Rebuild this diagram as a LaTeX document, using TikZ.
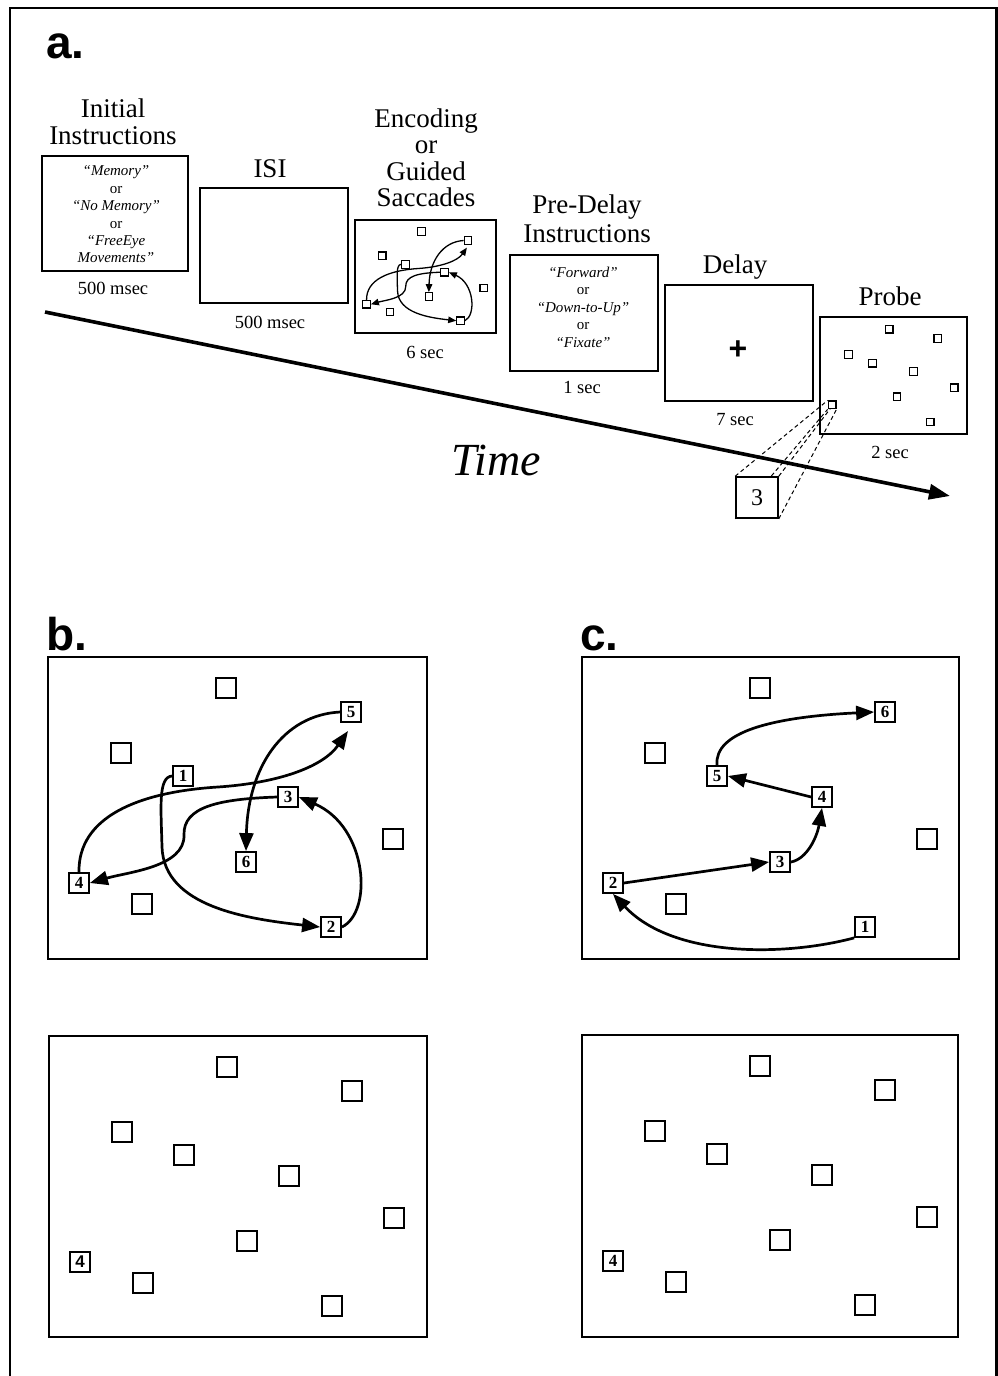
\documentclass[tikz,border=0pt]{standalone}
\usepackage{fontspec}
\setmainfont{Liberation Serif}
\newfontfamily\panelfont{Liberation Sans}
\usetikzlibrary{arrows.meta,backgrounds}

\tikzset{
  frm/.style={draw, line width=2.2pt},
  sqr/.style={draw, line width=2.3pt, fill=white, minimum size=19.5pt, inner sep=0pt,
    font=\fontsize{17}{17}\selectfont\bfseries},
  sacc/.style={line width=2.7pt, -{Triangle[length=18pt,width=14pt]}},
  ttl/.style={anchor=base, inner sep=0pt, font=\fontsize{27}{27}\selectfont},
  dur/.style={anchor=base, inner sep=0pt, font=\fontsize{18.5}{18.5}\selectfont},
  cue/.style={anchor=base, inner sep=0pt, font=\fontsize{15}{15}\selectfont\itshape},
  orr/.style={anchor=base, inner sep=0pt, font=\fontsize{15}{15}\selectfont},
  plab/.style={anchor=base west, inner sep=0pt,
    font=\panelfont\bfseries\fontsize{46}{46}\selectfont},
}

% ten target locations of the search display (panel coordinates)
\newcommand\grid[6]{%
  \node[sqr] (P1)  at (178,31)  {};
  \node[sqr] (P2)  at (303,55)  {#1};
  \node[sqr] (P3)  at (73,96)   {};
  \node[sqr] (P4)  at (135,119) {#2};
  \node[sqr] (P5)  at (240,140) {#3};
  \node[sqr] (P6)  at (345,182) {};
  \node[sqr] (P7)  at (198,205) {#4};
  \node[sqr] (P8)  at (31,226)  {#5};
  \node[sqr] (P9)  at (94,247)  {};
  \node[sqr] (P10) at (283,270) {#6};
}

% saccade sequence 1-2-3-4-5-6 of the forward condition
\newcommand\pathsB{%
  \coordinate (tip5) at (300,74);
  \draw[sacc] (P4.west) .. controls (110,120) and (113,150) .. (114,190)
              .. controls (116,250) and (200,262) .. (P10.west);
  \draw[sacc] (P10.east) .. controls (325,255) and (320,170) .. (P5.east);
  \draw[sacc] (P5.west) .. controls (170,142) and (135,150) .. (136,178)
              .. controls (137,210) and (80,215) .. (P8.east);
  \draw[sacc] (P8.north) .. controls (30,160) and (90,135) .. (170,130)
              .. controls (230,126) and (275,110) .. (tip5);
  \draw[sacc] (P2.west) .. controls (235,58) and (200,110) .. (P7.north);
}

\begin{document}
\begin{tikzpicture}[x=1pt, y=-1pt]
\useasboundingbox (0,0) rectangle (998,1376);

% outer frame (open at the bottom)
\draw[line width=2.5pt] (10,1400) -- (10,8) -- (996.5,8) -- (996.5,1400);

% panel letters
\node[plab] (la) at (46,58)  {a.};
\node[plab] (lb) at (46,650) {b.};
\node[plab] (lc) at (580,650) {c.};

% ---------- trial timeline ----------
\coordinate (tS) at (45,312);
\coordinate (tE) at (950,496);
\draw[line width=3.6pt, -{Triangle[length=21pt,width=15pt]}] (tS) -- (tE);
\node[anchor=base, inner sep=0pt, font=\fontsize{46}{46}\selectfont\itshape] (time) at (496,475) {Time};

% initial instructions
\draw[frm] (42,156) rectangle (188,271);
\node[ttl] (t1a) at (113,117) {Initial};
\node[ttl] (t1b) at (113,144) {Instructions};
\node[cue] (i1) at (116,175.5) {“Memory”};
\node[orr] (i2) at (116,193)   {or};
\node[cue] (i3) at (116,210.5) {“No Memory”};
\node[orr] (i4) at (116,228)   {or};
\node[cue] (i5) at (116,245)   {“FreeEye};
\node[cue] (i6) at (116,262.5) {Movements”};
\node[dur] (d1) at (113,294) {500 msec};

% inter-stimulus interval
\draw[frm] (200,188) rectangle (348,303);
\node[ttl] (t2) at (270,177) {ISI};
\node[dur] (d2) at (270,328) {500 msec};

% encoding / guided saccades
\node[ttl] (t3a) at (426,127) {Encoding};
\node[ttl] (t3b) at (426,153) {or};
\node[ttl] (t3c) at (426,180) {Guided};
\node[ttl] (t3d) at (426,206) {Saccades};
\begin{scope}[shift={(355,220)}, scale=0.373, name prefix=enc-,
    sqr/.style={draw, line width=1.2pt, fill=white, minimum size=7.5pt, inner sep=0pt},
    sacc/.style={line width=1.3pt, -{Triangle[length=8pt,width=6.5pt]}}]
  \draw[line width=2pt] (0,0) rectangle (378,302);
  \grid{}{}{}{}{}{}
  \pathsB
\end{scope}
\node[dur] (d3) at (425,358) {6 sec};

% pre-delay instructions
\draw[frm] (510,255) rectangle (658,371);
\node[ttl] (t4a) at (587,213) {Pre-Delay};
\node[ttl] (t4b) at (587,242) {Instructions};
\node[cue] (j1) at (583,277)   {“Forward”};
\node[orr] (j2) at (583,294.5) {or};
\node[cue] (j3) at (583,312)   {“Down-to-Up”};
\node[orr] (j4) at (583,329.5) {or};
\node[cue] (j5) at (583,347)   {“Fixate”};
\node[dur] (d4) at (582,393) {1 sec};

% delay with fixation cross
\draw[frm] (665,285) rectangle (813,401);
\node[ttl] (t5) at (735,273) {Delay};
\node[inner sep=0pt, font=\panelfont\bfseries\fontsize{32}{32}\selectfont] (fix) at (738,350) {+};
\node[dur] (d5) at (735,425) {7 sec};

% probe display
\node[ttl] (t6) at (890,305) {Probe};
\begin{scope}[shift={(820,317)}, scale=0.389, name prefix=pr-,
    sqr/.style={draw, line width=1.3pt, fill=white, minimum size=7.6pt, inner sep=0pt}]
  \draw[line width=2pt] (0,0) rectangle (378,302);
  \node[sqr] (P1)  at (178,31)  {};
  \node[sqr] (P2)  at (303,55)  {};
  \node[sqr] (P3)  at (73,96)   {};
  \node[sqr] (P4)  at (135,119) {};
  \node[sqr] (P5)  at (240,140) {};
  \node[sqr] (P6)  at (345,182) {};
  \node[sqr] (P7)  at (198,205) {};
  \node[sqr] (P8)  at (31,226)  {};
  \node[sqr] (P10) at (283,270) {};
\end{scope}
\node[dur] (d6) at (890,458) {2 sec};

% magnified probe item
\node[draw, line width=1.6pt, fill=white, minimum width=42pt, minimum height=41pt,
      inner sep=0pt, font=\fontsize{24}{24}\selectfont] (cube) at (757,497.5) {3};
\begin{scope}[on background layer]
  \draw[line width=1pt, dash pattern=on 4pt off 3pt]
    (cube.north west) -- (pr-P8.north west)
    (cube.north east) -- (pr-P8.north east)
    (cube.south east) -- (pr-P8.south east)
    (cube.south west) -- (pr-P8.south west);
\end{scope}

% ---------- panel b ----------
\begin{scope}[shift={(48,657)}, name prefix=b-]
  \draw[frm] (0,0) rectangle (379,302);
  \grid{5}{1}{3}{6}{4}{2}
  \pathsB
\end{scope}

% ---------- panel c ----------
\begin{scope}[shift={(582,657)}, name prefix=c-]
  \draw[frm] (0,0) rectangle (377,302);
  \grid{6}{5}{4}{3}{2}{1}
  \draw[sacc] (P10.south west) .. controls (200,300) and (90,300) .. (P8.south);
  \draw[sacc] (P8.east) -- (P7.west);
  \draw[sacc] (P7.east) .. controls (225,202) and (235,180) .. (P5.south);
  \draw[sacc] (P5.west) -- (P4.east);
  \draw[sacc] (P4.north) .. controls (132,75) and (190,60) .. (P2.west);
\end{scope}

% ---------- probe displays for b and c ----------
\begin{scope}[shift={(49,1036)}, name prefix=bp-]
  \draw[frm] (0,0) rectangle (378,301);
  \grid{}{}{}{}{\panelfont\bfseries 4}{}
\end{scope}
\begin{scope}[shift={(582,1035)}, name prefix=cp-]
  \draw[frm] (0,0) rectangle (376,302);
  \grid{}{}{}{}{4}{}
\end{scope}

\end{tikzpicture}
\end{document}
